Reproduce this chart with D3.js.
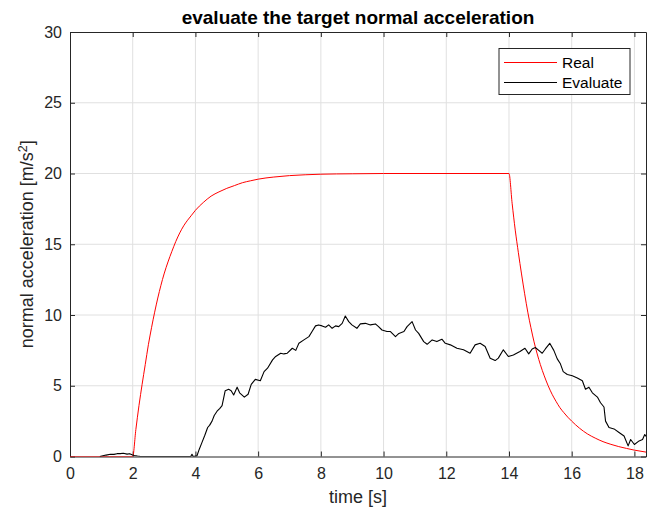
<!DOCTYPE html>
<html><head><meta charset="utf-8">
<script src="https://cdn.jsdelivr.net/npm/d3@7"></script>
<style>
html,body{margin:0;padding:0;background:#fff;}
svg{display:block;font-family:"Liberation Sans",Arial,Helvetica,sans-serif;}
</style></head>
<body>
<div id="chart"></div>
<script>
// ---- data ----
const titleText = "evaluate the target normal acceleration";
const xLabel = "time [s]";
const xTicks = [0,2,4,6,8,10,12,14,16,18];
const yTicks = [0,5,10,15,20,25,30];
const seriesNames = ["Real","Evaluate"];

const realT = [0,2,2.1,2.2,2.3,2.4,2.5,2.6,2.7,2.8,2.9,3.0,3.125,3.25,3.375,3.5,3.625,3.75,3.875,4.0,4.25,4.5,4.75,5.0,5.25,5.5,5.75,6.0,6.5,7.0,7.5,8.0,9.0,10,14,
  14.1,14.2,14.3,14.4,14.5,14.6,14.7,14.8,14.9,15.0,15.125,15.25,15.375,15.5,15.625,15.75,15.875,16.0,16.25,16.5,16.75,17.0,17.25,17.5,17.75,18.0,18.4];
const realV = [0,0,1.9,3.6,5.1,6.5,7.9,9.1,10.2,11.2,12.1,12.9,13.75,14.5,15.2,15.8,16.3,16.7,17.05,17.4,17.95,18.4,18.7,18.95,19.15,19.35,19.48,19.6,19.75,19.85,19.91,19.95,19.98,20,20,
  17.9,16.0,14.4,12.9,11.5,10.2,9.1,8.1,7.25,6.5,5.7,5.0,4.4,3.9,3.45,3.1,2.78,2.5,2.0,1.6,1.3,1.05,0.86,0.7,0.57,0.45,0.3];

const evalT = [0.95,1.05,1.15,1.29,1.4,1.5,1.6,1.7,1.82,1.9,1.98,2.05,2.15,2.25,3.85,3.89,3.93,4.05,4.12,4.21,4.3,4.39,4.45,4.53,4.6,4.69,4.78,4.85,4.95,
  5.06,5.14,5.22,5.33,5.41,5.56,5.68,5.78,5.91,6.07,6.19,6.30,6.46,6.56,6.72,6.82,6.93,7.09,7.2,7.3,7.46,7.62,7.72,7.83,7.93,
  8.04,8.15,8.25,8.36,8.47,8.57,8.68,8.78,8.89,8.99,9.15,9.26,9.42,9.58,9.74,9.84,9.95,10.11,10.22,10.38,10.49,10.65,10.75,10.91,
  11.02,11.12,11.28,11.39,11.55,11.7,11.86,11.97,12.13,12.34,12.55,12.76,12.92,13.08,13.24,13.4,13.56,13.66,13.82,13.98,
  14.14,14.35,14.51,14.63,14.74,14.84,14.95,15.06,15.16,15.3,15.43,15.54,15.64,15.73,15.86,16.02,16.18,16.34,16.44,16.55,16.66,16.82,16.92,
  17.03,17.08,17.19,17.35,17.51,17.67,17.8,17.88,18.0,18.15,18.26,18.33,18.4];
const evalV = [0,0.05,0.1,0.16,0.15,0.2,0.2,0.23,0.17,0.2,0.12,0.07,0.03,0,0,0.16,0,0.05,0.5,1.0,1.5,2.05,2.2,2.5,2.9,3.2,3.4,3.6,4.65,
  4.75,4.65,4.35,4.9,4.5,4.2,4.4,5.1,5.45,5.35,6.0,6.24,6.83,7.07,7.3,7.25,7.3,7.65,7.5,8.0,8.24,8.47,8.83,9.23,9.3,
  9.23,9.13,9.3,9.06,9.23,9.18,9.41,9.93,9.53,9.3,9.06,9.37,9.41,9.3,9.37,9.18,8.94,8.83,8.83,8.47,8.7,8.83,9.18,9.53,
  8.94,8.7,8.12,7.93,8.24,8.12,8.29,8.0,7.89,7.65,7.54,7.3,7.89,8.0,7.77,6.95,6.78,6.95,7.54,7.07,
  7.18,7.42,7.65,7.25,7.6,7.7,7.5,7.3,7.6,8.0,7.5,6.9,6.55,6.0,5.8,5.7,5.55,5.35,4.75,4.9,4.5,4.2,3.8,
  3.5,2.5,2.05,1.95,1.7,1.45,0.75,1.2,0.85,1.1,1.2,1.55,1.35];

const xDomain = [0,18.37];
const yDomain = [0,30];

// ---- layout ----
const W = 654, H = 512;
const m = {left:70, right:654-646, top:32, bottom:512-456.5};
const iw = W - m.left - m.right, ih = H - m.top - m.bottom;
const axisColor = "#262626";
const FONT = "'Liberation Sans',Arial,Helvetica,sans-serif";

const svg = d3.select("#chart").append("svg").attr("width",W).attr("height",H);
const g = svg.append("g").attr("transform",`translate(${m.left},${m.top})`);

const x = d3.scaleLinear().domain(xDomain).range([0,iw]);
const y = d3.scaleLinear().domain(yDomain).range([ih,0]);

// grid
g.append("g").selectAll("line").data(xTicks.filter(d=>d>0)).join("line")
  .attr("x1",d=>x(d)).attr("x2",d=>x(d)).attr("y1",0).attr("y2",ih)
  .attr("stroke","#e0e0e0").attr("stroke-width",1);
g.append("g").selectAll("line").data(yTicks.filter(d=>d>0&&d<30)).join("line")
  .attr("y1",d=>y(d)).attr("y2",d=>y(d)).attr("x1",0).attr("x2",iw)
  .attr("stroke","#e0e0e0").attr("stroke-width",1);

// axes
const tl = 5;
const xAxisB = d3.axisBottom(x).tickValues(xTicks).tickSizeInner(-tl).tickSizeOuter(0).tickPadding(11).tickFormat(d3.format("d"));
const xAxisT = d3.axisTop(x).tickValues(xTicks).tickSizeInner(-tl).tickSizeOuter(0).tickFormat("");
const yAxisL = d3.axisLeft(y).tickValues(yTicks).tickSizeInner(-tl).tickSizeOuter(0).tickPadding(8).tickFormat(d3.format("d"));
const yAxisR = d3.axisRight(y).tickValues(yTicks).tickSizeInner(-tl).tickSizeOuter(0).tickFormat("");

function styleAxis(sel){
  sel.select(".domain").attr("stroke",axisColor).attr("stroke-width",1);
  sel.selectAll(".tick line").attr("stroke",axisColor).attr("stroke-width",1);
  sel.selectAll(".tick text").attr("fill",axisColor).style("font-size","16px").style("font-family",FONT);
}
g.append("g").attr("transform",`translate(0,${ih})`).call(xAxisB).call(styleAxis);
g.append("g").call(xAxisT).call(styleAxis);
g.append("g").call(yAxisL).call(styleAxis);
g.append("g").attr("transform",`translate(${iw},0)`).call(yAxisR).call(styleAxis);

// clip
svg.append("defs").append("clipPath").attr("id","clip").append("rect")
  .attr("x",0).attr("y",-2).attr("width",iw).attr("height",ih+2);

const plot = g.append("g").attr("clip-path","url(#clip)");
const smooth = d3.line().x(d=>x(d[0])).y(d=>y(d[1])).curve(d3.curveMonotoneX);
const line = d3.line().x(d=>x(d[0])).y(d=>y(d[1]));
plot.append("path").datum(realT.map((t,i)=>[t,realV[i]]))
  .attr("d",smooth).attr("fill","none").attr("stroke","#ff0000").attr("stroke-width",1);
plot.append("path").datum(evalT.map((t,i)=>[t,evalV[i]]))
  .attr("d",line).attr("fill","none").attr("stroke","#000000").attr("stroke-width",1.1).attr("stroke-linejoin","round");

// title + labels
svg.append("text").attr("x",m.left+iw/2).attr("y",24).attr("text-anchor","middle")
  .attr("fill","#000").style("font-size","19px").style("font-weight","bold").text(titleText);
svg.append("text").attr("x",m.left+iw/2).attr("y",503).attr("text-anchor","middle")
  .attr("fill",axisColor).style("font-size","18px").text(xLabel);
const yl = svg.append("text").attr("transform",`translate(33,${m.top+ih/2}) rotate(-90)`)
  .attr("text-anchor","middle").attr("fill",axisColor).style("font-size","18px");
yl.append("tspan").text("normal acceleration [m/s");
yl.append("tspan").attr("dy","-0.45em").style("font-size","12.5px").text("2");
yl.append("tspan").attr("dy","0.32em").text("]");

// legend
const lg = svg.append("g").attr("transform","translate(499,48.5)");
lg.append("rect").attr("x",0).attr("y",0).attr("width",131).attr("height",46)
  .attr("fill","#fff").attr("stroke",axisColor).attr("stroke-width",1);
const lcolors = ["#ff0000","#000000"];
seriesNames.forEach((name,i)=>{
  const yy = 14 + i*20;
  lg.append("line").attr("x1",5).attr("x2",58).attr("y1",yy).attr("y2",yy)
    .attr("stroke",lcolors[i]).attr("stroke-width",1);
  lg.append("text").attr("x",63).attr("y",yy).attr("dy","0.35em")
    .attr("fill","#000").style("font-size","15.5px").text(name);
});
</script>
</body></html>
